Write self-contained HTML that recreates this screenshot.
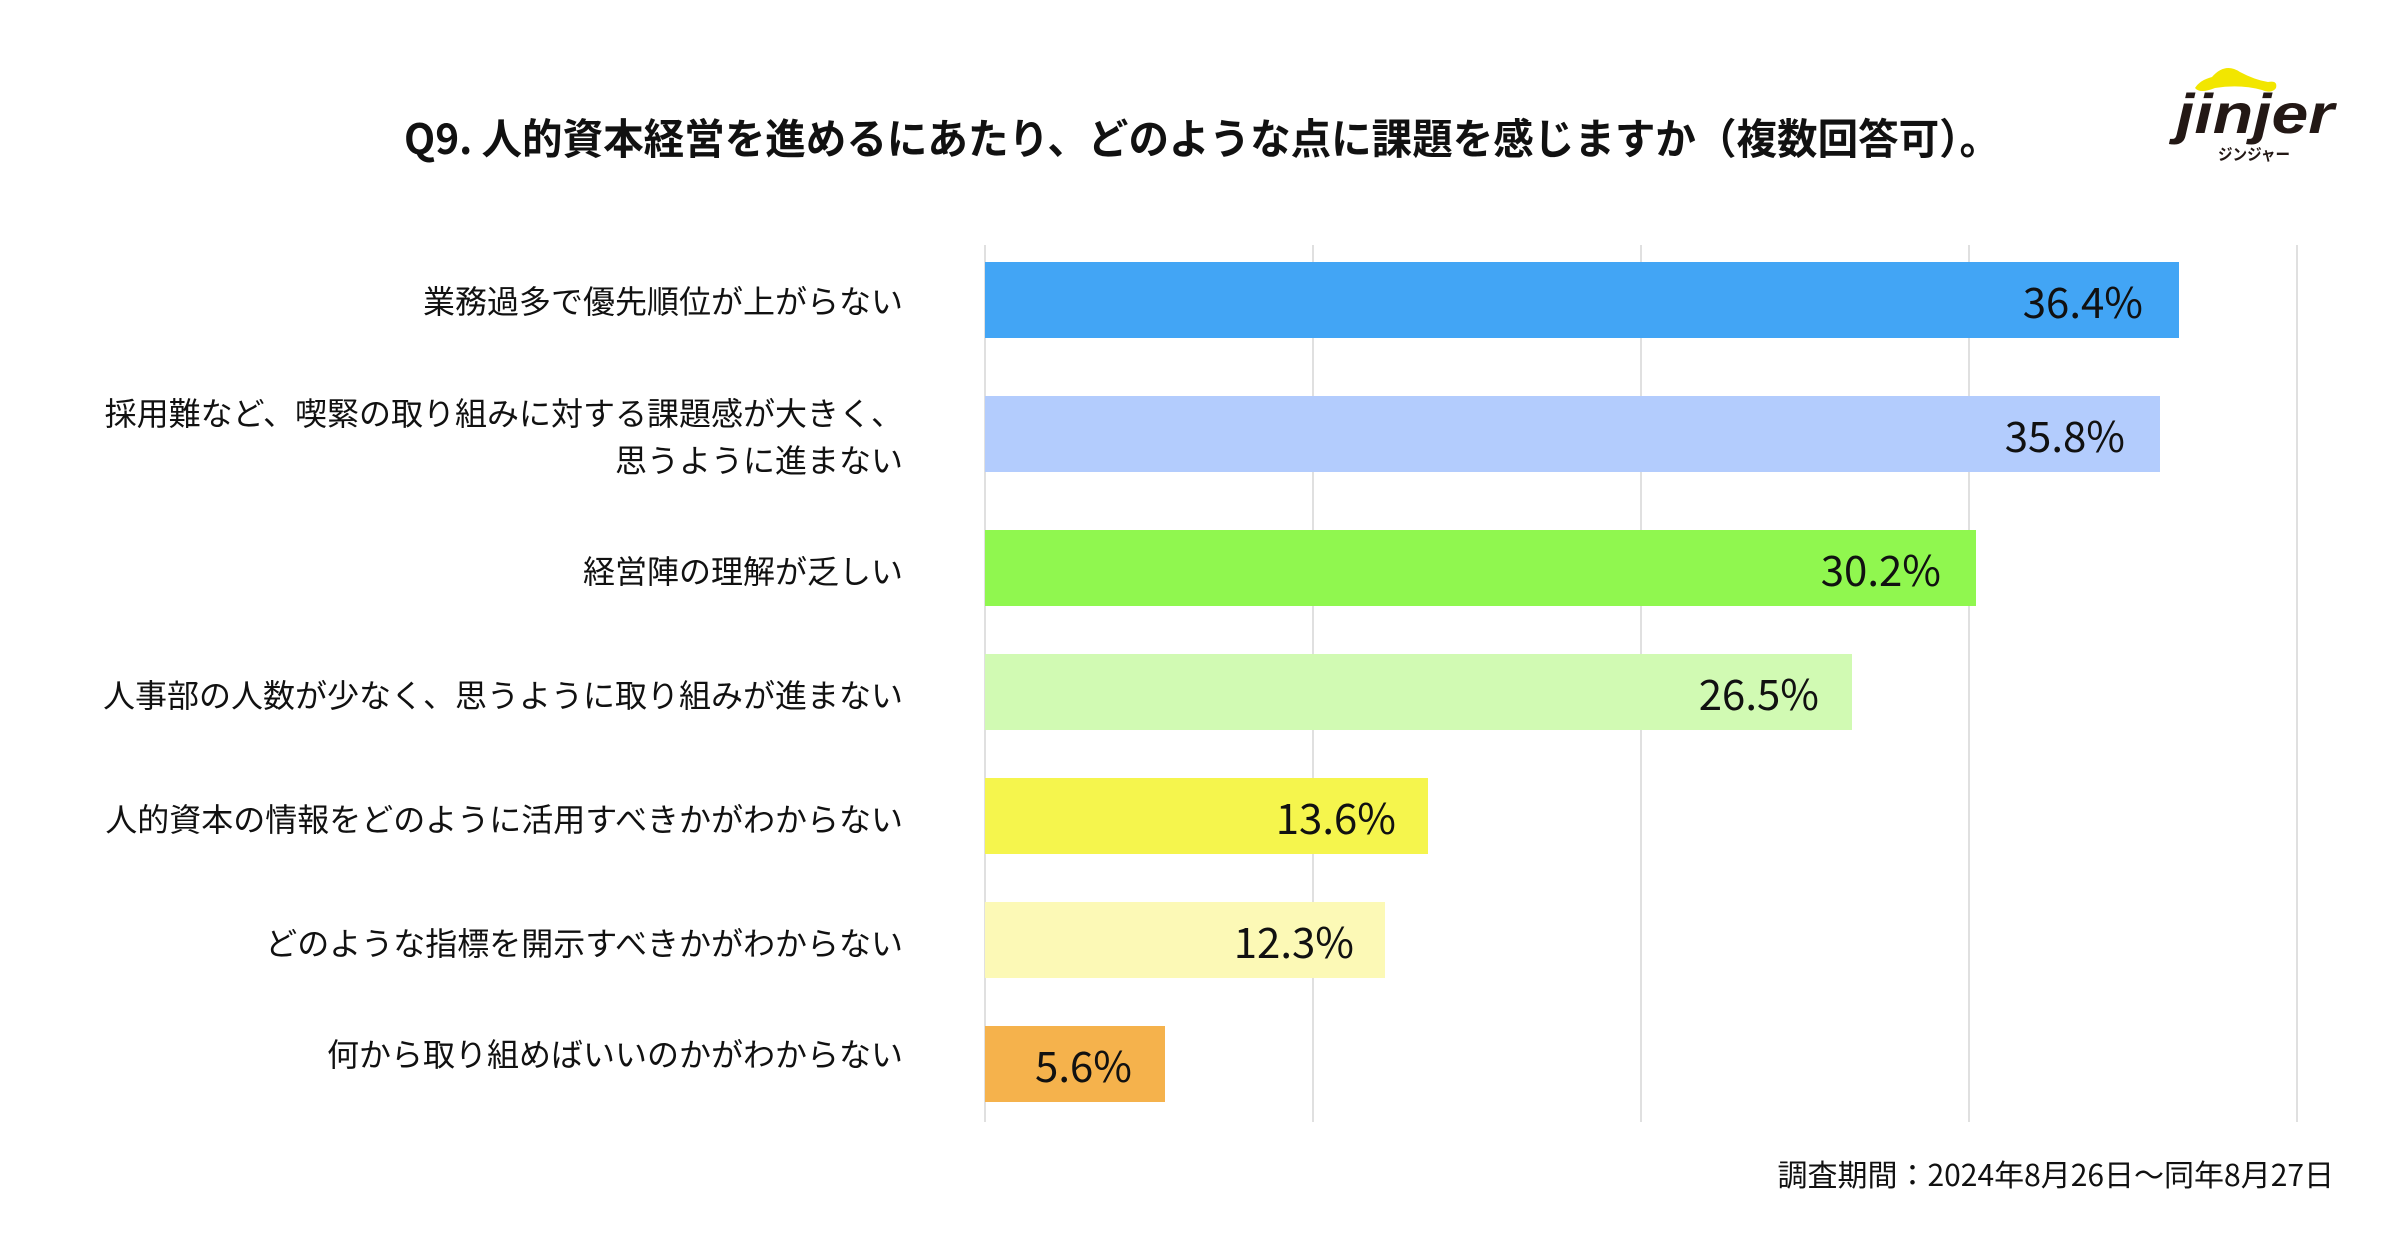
<!DOCTYPE html>
<html><head><meta charset="utf-8"><style>
html,body{margin:0;padding:0;background:#fff;}
svg{display:block;}
text{font-family:"Noto Sans CJK JP","Liberation Sans",sans-serif;fill:#111;}
.lab{font-size:32px;text-anchor:end;}
.val{font-size:42px;text-anchor:end;}
</style></head><body>
<svg width="2400" height="1260" viewBox="0 0 2400 1260" xmlns="http://www.w3.org/2000/svg">
<rect width="2400" height="1260" fill="#fff"/>
<text x="404" y="154" style="font-size:42px;font-weight:bold" textLength="1596" lengthAdjust="spacingAndGlyphs">Q9. 人的資本経営を進めるにあたり、どのような点に課題を感じますか（複数回答可）。</text>
<!-- logo -->
<path d="M2195 88 Q2200 80 2212 77 Q2225 62 2240 72 Q2255 80 2268 82 Q2278 80 2276 88 Q2272 94 2262 90 Q2240 84 2215 88 Q2200 94 2195 88 Z" fill="#f2e600"/>
<text x="2176" y="133" style="font-family:'Liberation Sans',sans-serif;font-size:56px;font-weight:bold;font-style:italic;fill:#231815" textLength="158" lengthAdjust="spacingAndGlyphs">jinjer</text>
<text x="2218" y="160" style="font-size:16px;font-weight:bold;fill:#231815" textLength="72" lengthAdjust="spacingAndGlyphs">ジンジャー</text>
<!-- grid -->
<g stroke="#e0e0e0" stroke-width="2">
<line x1="985" y1="245" x2="985" y2="1122"/>
<line x1="1313" y1="245" x2="1313" y2="1122"/>
<line x1="1641" y1="245" x2="1641" y2="1122"/>
<line x1="1969" y1="245" x2="1969" y2="1122"/>
<line x1="2297" y1="245" x2="2297" y2="1122"/>
</g>
<!-- bars -->
<rect x="985" y="262" width="1194" height="76" fill="#42a5f5"/>
<rect x="985" y="396" width="1175" height="76" fill="#b3ccfd"/>
<rect x="985" y="530" width="991" height="76" fill="#90f74f"/>
<rect x="985" y="654" width="867" height="76" fill="#d1fab3"/>
<rect x="985" y="778" width="443" height="76" fill="#f5f54d"/>
<rect x="985" y="902" width="400" height="76" fill="#fcf9b6"/>
<rect x="985" y="1026" width="180" height="76" fill="#f5b24c"/>
<!-- values -->
<text class="val" x="2143" y="318">36.4%</text>
<text class="val" x="2125" y="452">35.8%</text>
<text class="val" x="1941" y="586">30.2%</text>
<text class="val" x="1819" y="710">26.5%</text>
<text class="val" x="1396" y="834">13.6%</text>
<text class="val" x="1354" y="958">12.3%</text>
<text class="val" x="1132" y="1082">5.6%</text>
<!-- labels -->
<text class="lab" x="903" y="313">業務過多で優先順位が上がらない</text>
<text class="lab" x="903" y="425">採用難など、喫緊の取り組みに対する課題感が大きく、</text>
<text class="lab" x="903" y="472">思うように進まない</text>
<text class="lab" x="903" y="583">経営陣の理解が乏しい</text>
<text class="lab" x="903" y="707">人事部の人数が少なく、思うように取り組みが進まない</text>
<text class="lab" x="903" y="831">人的資本の情報をどのように活用すべきかがわからない</text>
<text class="lab" x="903" y="955">どのような指標を開示すべきかがわからない</text>
<text class="lab" x="903" y="1066">何から取り組めばいいのかがわからない</text>
<text x="2334" y="1186" style="font-size:30px;text-anchor:end">調査期間：2024年8月26日〜同年8月27日</text>
</svg>
</body></html>
